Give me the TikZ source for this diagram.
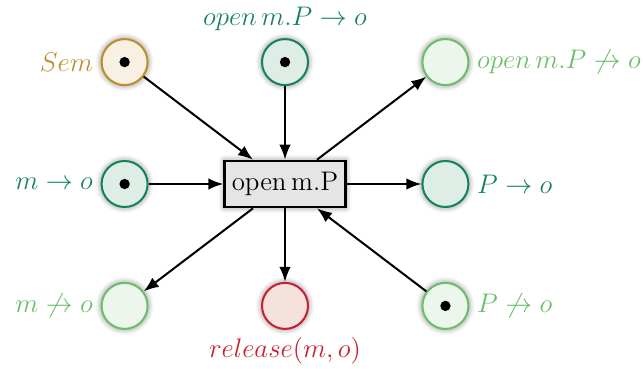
\documentclass[tikz,border=0pt]{standalone}
\usepackage{fix-cm}
\usepackage{amssymb}
\usetikzlibrary{positioning, arrows.meta, shadows.blur}

\definecolor{semcol}{RGB}{190,140,40}
\definecolor{semfill}{RGB}{248,240,226}
\definecolor{okcol}{RGB}{20,130,90}
\definecolor{okfill}{RGB}{222,237,230}
\definecolor{nocol}{RGB}{105,190,105}
\definecolor{nofill}{RGB}{237,246,237}
\definecolor{relcol}{RGB}{200,30,50}
\definecolor{relfill}{RGB}{246,226,220}

\newcommand{\nto}{\not\to}

\begin{document}
\begin{tikzpicture}[>={Latex[length=2.6mm, width=2mm]}, auto, line width=1pt,
    font=\fontsize{13.3}{16}\selectfont]

    \tikzset{
      place/.style = {shape=circle, draw, line width=1pt, minimum size=0.8cm,
        blur shadow={shadow xshift=0pt, shadow yshift=0pt, shadow blur radius=3pt, shadow opacity=55}},
      trans/.style = {shape=rectangle, draw, line width=1.3pt, fill=gray!20,
        minimum width=2.1cm, minimum height=0.8cm, inner sep=2pt,
        blur shadow={shadow xshift=0pt, shadow yshift=0pt, shadow blur radius=3pt, shadow opacity=55}},
      sem/.style   = {place, draw=semcol, fill=semfill},
      ok/.style    = {place, draw=okcol, fill=okfill},
      no/.style    = {place, draw=nocol, fill=nofill},
      rel/.style   = {place, draw=relcol, fill=relfill},
      token/.style = {path picture={\fill[black] (path picture bounding box.center) circle (0.09cm);}},
    }

    \useasboundingbox (-4.957,-3.217) rectangle (6.226,3.2);

    \node[trans] (T) {open\,m.P};

    % linke Spalte
    \node[ok, token, left of=T, node distance=2.79cm,
      label={[okcol]left:$m\to o$}] (mo) {};
    \node[sem, token, above of=mo, node distance=2.12cm,
      label={[semcol]left:$Sem$}] (Sem) {};
    \node[no, below of=mo, node distance=2.12cm,
      label={[nocol]left:$m\nto o$}] (mno) {};

    % mittlere Spalte
    \node[ok, token, above of=T, node distance=2.12cm,
      label={[okcol]above:$open\,m.P\to o$}] (oPo) {};
    \node[rel, below of=T, node distance=2.12cm,
      label={[relcol]below:$release(m,o)$}] (rel) {};

    % rechte Spalte
    \node[ok, right of=T, node distance=2.79cm,
      label={[okcol]right:$P\to o$}] (Po) {};
    \node[no, above of=Po, node distance=2.12cm,
      label={[nocol]right:$open\,m.P\nto o$}] (oPno) {};
    \node[no, token, below of=Po, node distance=2.12cm,
      label={[nocol]right:$P\nto o$}] (Pno) {};

    \path[->]
      (Sem)  edge (T)
      (oPo)  edge (T)
      (mo)   edge (T)
      (Pno)  edge (T)
      (T)    edge (oPno)
      (T)    edge (Po)
      (T)    edge (mno)
      (T)    edge (rel);

\end{tikzpicture}
\end{document}
